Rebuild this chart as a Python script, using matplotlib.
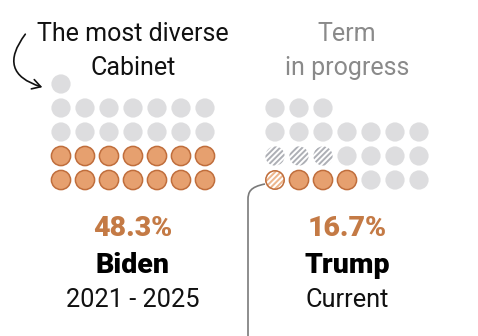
import matplotlib
matplotlib.use("Agg")
import matplotlib.pyplot as plt
from matplotlib.patches import Circle, FancyArrowPatch
from matplotlib.path import Path
from matplotlib.patches import PathPatch

plt.rcParams['hatch.linewidth'] = 1.4

# ---- data ----
presidents = ["Biden", "Trump"]
terms = ["2021 - 2025", "Current"]
percents = ["48.3%", "16.7%"]
# dot rows from bottom to top; codes: 'o' orange, 'h' hatched orange, 'g' gray, 's' hatched gray
biden_rows = [
    "ooooooo",
    "ooooooo",
    "ggggggg",
    "ggggggg",
    "g",
]
trump_rows = [
    "hoooggg",
    "sssgggg",
    "ggggggg",
    "ggg",
]
headers = [["The most diverse", "Cabinet"], ["Term", "in progress"]]

# ---- style ----
ORANGE = "#E6A06F"
ORANGE_EDGE = "#C06E3C"
ORANGE_LIGHT = "#EDB68C"
GRAY = "#DDDDDF"
HATCH_GRAY = "#ADAFB5"
PCT = "#C47A45"
font = "Roboto"

W, H = 478, 336
fig = plt.figure(figsize=(W / 100, H / 100), dpi=100)
ax = fig.add_axes([0, 0, 1, 1])
ax.set_xlim(0, W)
ax.set_ylim(H, 0)
ax.axis("off")

step = 24
r = 9.6
panels = [
    dict(rows=biden_rows, x0=61, ybot=180, cx=133),
    dict(rows=trump_rows, x0=275, ybot=180, cx=347),
]

for p in panels:
    for ri, row in enumerate(p["rows"]):
        for ci, code in enumerate(row):
            x = p["x0"] + ci * step
            y = p["ybot"] - ri * step
            if code == "o":
                ax.add_patch(Circle((x, y), r, facecolor=ORANGE, edgecolor=ORANGE_EDGE, lw=1.1))
            elif code == "g":
                ax.add_patch(Circle((x, y), r, facecolor=GRAY, edgecolor="none", lw=0))
            elif code == "s":
                ax.add_patch(Circle((x, y), r, facecolor="white", edgecolor=HATCH_GRAY,
                                    hatch="//////", lw=0))
            elif code == "h":
                ax.add_patch(Circle((x, y), r, facecolor=ORANGE_LIGHT, edgecolor="white",
                                    hatch="//////", lw=0))
                ax.add_patch(Circle((x, y), r - 0.4, facecolor="none", edgecolor=ORANGE_EDGE, lw=1.1))

# labels
for p, pct, name, term, hdr, hcol in zip(panels, percents, presidents, terms, headers,
                                          ["#111111", "#8A8A8A"]):
    cx = p["cx"]
    ax.text(cx, 236, pct, ha="center", va="baseline", fontsize=20.5, color=PCT,
            fontweight="black", family=font)
    ax.text(cx, 273, name, ha="center", va="baseline", fontsize=20.5, color="#000000",
            fontweight="black", family=font)
    ax.text(cx, 307, term, ha="center", va="baseline", fontsize=18.3, color="#111111",
            family=font)
    ax.text(cx, 41, hdr[0], ha="center", va="baseline", fontsize=18, color=hcol, family=font)
    ax.text(cx, 75, hdr[1], ha="center", va="baseline", fontsize=18, color=hcol, family=font)

# curved arrow
arrow = FancyArrowPatch((27, 32), (45, 88), connectionstyle="arc3,rad=0.75",
                        arrowstyle="->,head_length=6,head_width=3.5", color="#111111", lw=1.2)
ax.add_patch(arrow)

# leader line from hatched dot
verts = [(265, 184), (250, 187), (248, 192), (248, 200), (248, 336)]
codes = [Path.MOVETO, Path.CURVE4, Path.CURVE4, Path.CURVE4, Path.LINETO]
ax.add_patch(PathPatch(Path(verts, codes), facecolor="none", edgecolor="#7A7A7A", lw=1.2))

fig.savefig("out.png", dpi=100)
